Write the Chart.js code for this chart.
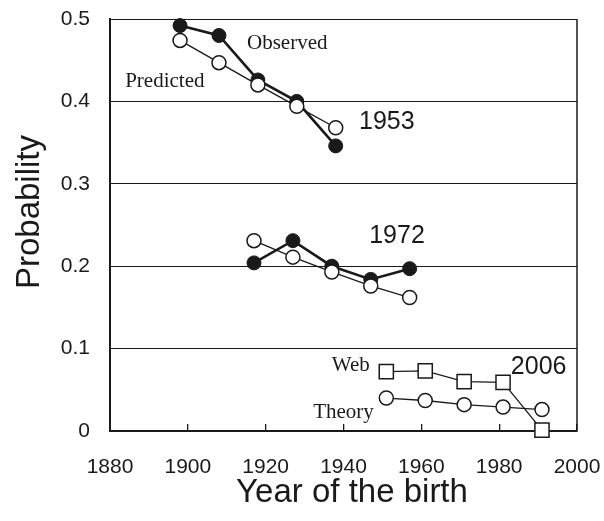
<!DOCTYPE html>
<html>
<head>
<meta charset="utf-8">
<script src="https://cdn.jsdelivr.net/npm/chart.js@4.4.1/dist/chart.umd.min.js"></script>
<style>
  html, body { margin: 0; padding: 0; background: #fff; }
  #wrap { width: 604px; height: 521px; }
</style>
</head>
<body>
<div id="wrap"><canvas id="chart" width="604" height="521"></canvas></div>
<script>
// data
const years1953 = [1898, 1908, 1918, 1928, 1938];
const observed1953 = [0.492, 0.480, 0.426, 0.400, 0.346];
const predicted1953 = [0.474, 0.447, 0.420, 0.394, 0.368];

const years1972 = [1917, 1927, 1937, 1947, 1957];
const observed1972 = [0.204, 0.231, 0.200, 0.184, 0.197];
const predicted1972 = [0.231, 0.211, 0.193, 0.176, 0.162];

const years2006 = [1951, 1961, 1971, 1981, 1991];
const web2006 = [0.072, 0.073, 0.060, 0.059, 0.001];
const theory2006 = [0.040, 0.037, 0.032, 0.029, 0.026];

const xTicks = [1880, 1900, 1920, 1940, 1960, 1980, 2000];
const yTicks = [0, 0.1, 0.2, 0.3, 0.4, 0.5];

// text labels in data coordinates (left edge, vertical middle)
const notes = [
  { text: "Observed", x: 1915.2, y: 0.470, serif: true },
  { text: "Predicted", x: 1883.9, y: 0.424, serif: true },
  { text: "1953", x: 1944, y: 0.375 },
  { text: "1972", x: 1946.6, y: 0.236 },
  { text: "Web", x: 1937, y: 0.080, serif: true },
  { text: "2006", x: 1983, y: 0.077 },
  { text: "Theory", x: 1932.2, y: 0.022, serif: true },
];

const SANS = '"Liberation Sans", Arial, sans-serif';
const SERIF = '"Liberation Serif", "Times New Roman", serif';
const INK = "#1a1a1a";

function pts(xs, ys) {
  return xs.map((x, i) => ({ x: x, y: ys[i] }));
}

function openCircles(label, xs, ys) {
  return {
    label: label,
    data: pts(xs, ys),
    borderColor: INK,
    borderWidth: 1.3,
    pointRadius: 7,
    pointBorderWidth: 1.5,
    pointBackgroundColor: "#fff",
    pointBorderColor: INK,
    clip: false,
  };
}

function filledCircles(label, xs, ys) {
  return {
    label: label,
    data: pts(xs, ys),
    borderColor: INK,
    borderWidth: 2.6,
    pointRadius: 7,
    pointBorderWidth: 1,
    pointBackgroundColor: INK,
    pointBorderColor: INK,
    clip: false,
  };
}

const extras = {
  id: "extras",
  afterDraw(chart) {
    const ctx = chart.ctx;
    const a = chart.chartArea;
    const xs = chart.scales.x;
    const ys = chart.scales.y;
    ctx.save();
    // right frame line
    ctx.strokeStyle = INK;
    ctx.lineWidth = 1.5;
    ctx.beginPath();
    ctx.moveTo(a.right, a.top);
    ctx.lineTo(a.right, a.bottom);
    ctx.stroke();

    ctx.fillStyle = INK;
    ctx.textBaseline = "middle";
    ctx.textAlign = "left";
    notes.forEach((n) => {
      ctx.font = n.serif ? "21px " + SERIF : "25px " + SANS;
      ctx.fillText(n.text, xs.getPixelForValue(n.x), ys.getPixelForValue(n.y));
    });

    // axis titles
    ctx.font = "33px " + SANS;
    ctx.textAlign = "center";
    ctx.fillText("Year of the birth", 352, 493);
    ctx.translate(30, 212);
    ctx.rotate(-Math.PI / 2);
    ctx.fillText("Probability", 0, 0);
    ctx.restore();
  },
};

new Chart(document.getElementById("chart"), {
  type: "line",
  data: {
    datasets: [
      openCircles("Predicted 1953", years1953, predicted1953),
      filledCircles("Observed 1953", years1953, observed1953),
      openCircles("Predicted 1972", years1972, predicted1972),
      filledCircles("Observed 1972", years1972, observed1972),
      openCircles("Theory", years2006, theory2006),
      Object.assign(openCircles("Web", years2006, web2006), {
        pointStyle: "rect",
        pointRadius: 10,
      }),
    ],
  },
  options: {
    responsive: false,
    animation: false,
    layout: { padding: { top: 19, right: 27, left: 0, bottom: 0 } },
    plugins: {
      legend: { display: false },
      tooltip: { enabled: false },
    },
    scales: {
      x: {
        type: "linear",
        min: 1880,
        max: 2000,
        afterBuildTicks: (s) => { s.ticks = xTicks.map((v) => ({ value: v })); },
        afterFit: (s) => {
          s.height = 90;
          s.paddingLeft = 0;
          s.paddingRight = 0;
        },
        ticks: {
          padding: 31,
          color: INK,
          font: { family: SANS, size: 21 },
          maxRotation: 0,
          callback: (v) => String(v),
        },
        grid: {
          drawOnChartArea: false,
          tickLength: -7,
          color: INK,
          lineWidth: 1.3,
        },
        border: { color: INK, width: 2 },
      },
      y: {
        min: 0,
        max: 0.5,
        afterBuildTicks: (s) => { s.ticks = yTicks.map((v) => ({ value: v })); },
        afterFit: (s) => {
          s.width = 110;
          s.paddingTop = 0;
          s.paddingBottom = 0;
        },
        ticks: {
          padding: 20,
          color: INK,
          font: { family: SANS, size: 21 },
          callback: (v) => String(Math.round(v * 10) / 10),
        },
        grid: {
          drawTicks: false,
          color: INK,
          lineWidth: 1,
        },
        border: { color: INK, width: 2 },
      },
    },
  },
  plugins: [extras],
});
</script>
</body>
</html>
